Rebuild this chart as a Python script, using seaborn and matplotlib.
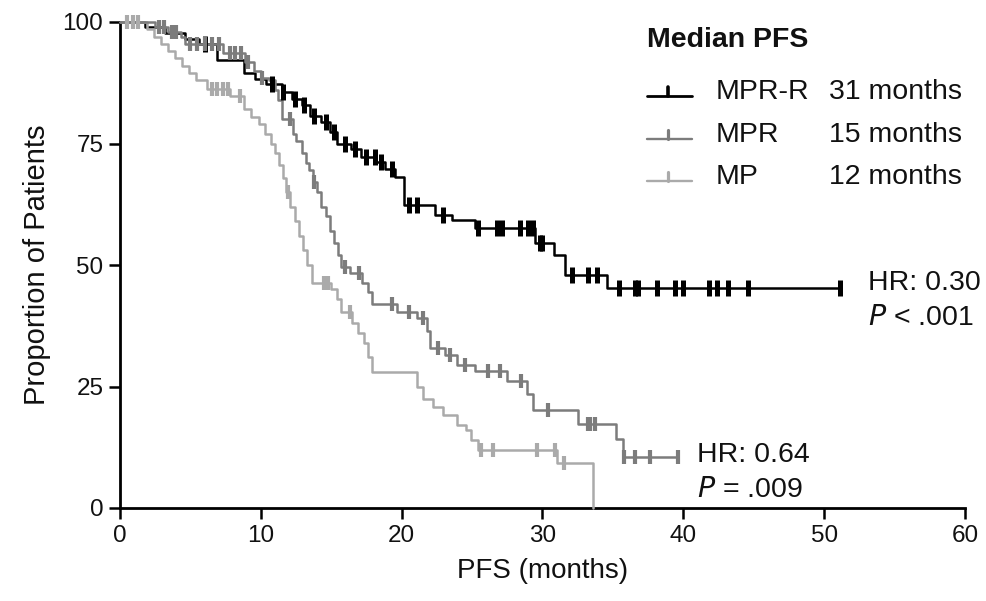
import numpy as np
import pandas as pd
import matplotlib
matplotlib.use("Agg")
import matplotlib.pyplot as plt
from matplotlib.lines import Line2D
import seaborn as sns

# ---------------- data ----------------
arms = ["MPR-R", "MPR", "MP"]
medians = ["31 months", "15 months", "12 months"]

mprr_t = [0, 1.8, 3.2, 4.6, 5.6, 6.9, 8.8, 9.6, 10.4, 11.5, 12.2, 12.9, 13.5, 14.3, 14.9,
          15.4, 16.4, 17.1, 18.2, 18.8, 19.5, 20.2, 22.4, 23.6, 25.2, 29.5, 30.8, 31.6, 34.6]
mprr_s = [100, 98.9, 97.8, 96.6, 95.5, 92.1, 89.5, 88.3, 87.2, 85.5, 84.1, 83.0, 80.7, 79.5, 77.3,
          75.0, 73.9, 72.3, 71.2, 69.8, 68.2, 62.3, 60.3, 59.3, 57.6, 54.5, 52.0, 48.0, 45.3]
mprr_end = 51.1
mprr_cens = [6.0, 10.8, 11.6, 12.4, 13.1, 13.8, 14.6, 15.2, 16.0, 16.7, 17.5, 18.1, 18.5, 19.3,
             20.5, 21.1, 22.9, 25.4, 26.8, 27.1, 28.4, 29.0, 29.3, 29.8, 30.0, 32.1, 33.2, 33.9,
             35.4, 36.6, 36.8, 38.1, 39.4, 40.0, 41.8, 42.4, 43.2, 44.6, 51.1]

mpr_t = [0, 2.5, 3.4, 4.3, 4.6, 7.3, 8.9, 9.5, 10.0, 10.6, 11.0, 11.2, 11.5, 12.3, 12.5, 12.9,
         13.2, 13.4, 13.7, 14.0, 14.3, 14.6, 14.9, 15.2, 15.5, 15.7, 16.3, 17.2, 17.6, 17.9, 19.7,
         21.1, 21.8, 22.0, 23.1, 23.9, 25.2, 27.5, 28.9, 29.3, 32.5, 35.2, 35.7]
mpr_s = [100, 99, 98, 97, 95.5, 93.6, 91.8, 90, 88.5, 88, 86, 84, 80, 77, 75.5, 73,
         71, 69.5, 67, 65, 62, 60, 57, 54.5, 52, 49.6, 48.4, 46.3, 44.5, 42, 40.3,
         39.1, 36.5, 33, 31.5, 29.4, 28.2, 26.1, 23.5, 20.2, 17.3, 14.3, 10.5]
mpr_end = 39.6
mpr_cens = [2.8, 3.1, 3.7, 4.0, 5.0, 5.5, 6.0, 6.5, 7.0, 7.8, 8.2, 8.6, 9.1, 10.1, 12.1, 13.8,
            16.0, 17.0, 19.3, 20.5, 21.5, 22.6, 23.4, 24.5, 26.1, 27.0, 28.5, 30.4, 33.2, 33.4,
            33.7, 35.8, 36.6, 37.6, 39.6]

mp_t = [0, 1.9, 2.4, 2.9, 3.4, 3.9, 4.4, 4.9, 5.4, 6.2, 7.8, 8.8, 9.3, 9.9, 10.3, 10.7, 11.0,
        11.3, 11.6, 11.8, 12.1, 12.4, 12.7, 13.0, 13.3, 13.6, 15.0, 15.4, 15.7, 16.5, 16.9, 17.3,
        17.6, 17.9, 21.1, 21.5, 22.2, 22.9, 23.9, 24.6, 24.9, 25.4, 31.0, 33.6]
mp_s = [100, 98.5, 97, 95.5, 94, 92.5, 91, 89.5, 88, 86.2, 84.8, 82, 80.5, 79, 77, 75, 73,
        70.5, 68, 65, 62, 59, 56, 53, 50, 46.3, 45, 43, 40.3, 38, 36, 34,
        31, 28, 25, 22.5, 20.8, 19.1, 17.1, 16, 14, 12, 9.3, 0]
mp_end = 33.6
mp_cens = [0.5, 0.9, 1.3, 6.5, 6.9, 7.3, 7.7, 8.5, 11.9, 14.5, 14.8, 16.3, 25.6, 26.5, 29.6,
           30.9, 31.5]

xticks = [0, 10, 20, 30, 40, 50, 60]
yticks = [0, 25, 50, 75, 100]
hr_text = [("HR: 0.30", "< .001"), ("HR: 0.64", "= .009")]

colors = {"MPR-R": "#000000", "MPR": "#7c7c7c", "MP": "#aaaaaa"}

# ---------------- tidy frames ----------------
curves = {"MPR-R": (mprr_t, mprr_s, mprr_end, mprr_cens),
          "MPR": (mpr_t, mpr_s, mpr_end, mpr_cens),
          "MP": (mp_t, mp_s, mp_end, mp_cens)}

line_rows, cens_rows = [], []
for arm, (t, s, end, cens) in curves.items():
    tt = list(t) + [end]
    ss = list(s) + [s[-1]]
    for a, b in zip(tt, ss):
        line_rows.append({"arm": arm, "time": a, "surv": b})
    t_arr = np.asarray(t)
    s_arr = np.asarray(s)
    for c in cens:
        idx = np.searchsorted(t_arr, c, side="right") - 1
        cens_rows.append({"arm": arm, "time": c, "surv": s_arr[idx]})
lines_df = pd.DataFrame(line_rows)
cens_df = pd.DataFrame(cens_rows)

# ---------------- plot ----------------
sns.set_style("ticks")
plt.rcParams["font.family"] = ["Liberation Sans", "DejaVu Sans"]

W, H = 986, 601
fig = plt.figure(figsize=(W / 100, H / 100), dpi=100)
ax = fig.add_axes([120 / W, 1 - 508 / H, (965 - 120) / W, (508 - 22) / H])

draw_order = ["MPR-R", "MP", "MPR"]
for arm in draw_order:
    sub = lines_df[lines_df.arm == arm]
    sns.lineplot(data=sub, x="time", y="surv", color=colors[arm], drawstyle="steps-post",
                 estimator=None, sort=False, linewidth=1.8,
                 ax=ax, legend=False, clip_on=False, zorder=3)
    csub = cens_df[cens_df.arm == arm]
    big = arm == "MPR-R"
    ax.plot(csub.time, csub.surv, linestyle="none", marker="|",
            markersize=11.5 if big else 9.5, markeredgewidth=3.6 if big else 3.0,
            color=colors[arm], clip_on=False, zorder=4)

ax.set_xlim(0, 60)
ax.set_ylim(0, 100)
ax.set_xticks(xticks)
ax.set_yticks(yticks)
ax.tick_params(axis="both", length=8, width=1.8, labelsize=17.5, color="black",
               labelcolor="#111111", pad=4)
for sp in ["left", "bottom"]:
    ax.spines[sp].set_linewidth(2.0)
    ax.spines[sp].set_color("black")
sns.despine(ax=ax)
ax.set_xlabel("PFS (months)", fontsize=20, labelpad=8, color="#111111")
ax.set_ylabel("Proportion of Patients", fontsize=21, labelpad=8, color="#111111")

# ---------------- legend (manual) ----------------
def fx(px):
    return px / W

def fy(py):
    return 1 - py / H

FS = 20.5
fig.text(fx(647), fy(40), "Median PFS", fontsize=FS, fontweight="bold", va="center",
         ha="left", color="#111111")
row_y = [92, 135, 177]
for arm, med, yy in zip(arms, medians, row_y):
    lw = 2.0 if arm == "MPR-R" else 1.7
    fig.add_artist(Line2D([fx(647), fx(692)], [fy(yy + 4), fy(yy + 4)], color=colors[arm], lw=lw))
    fig.add_artist(Line2D([fx(668), fx(668)], [fy(yy + 4), fy(yy - 5)], color=colors[arm], lw=lw + 0.6))
    fig.text(fx(716), fy(yy), arm, fontsize=FS, va="center", ha="left", color="#111111")
    fig.text(fx(962), fy(yy), med, fontsize=FS, va="center", ha="right", color="#111111")

# ---------------- HR annotations ----------------
for (hr, p), (x0, y0) in zip(hr_text, [(868, 283), (697, 455)]):
    fig.text(fx(x0), fy(y0), hr, fontsize=FS, va="center", ha="left", color="#111111")
    fig.text(fx(x0), fy(y0 + 35), "$\\it{P}$ " + p, fontsize=FS, va="center", ha="left",
             color="#111111")

fig.savefig("out.png", dpi=100, facecolor="white")
